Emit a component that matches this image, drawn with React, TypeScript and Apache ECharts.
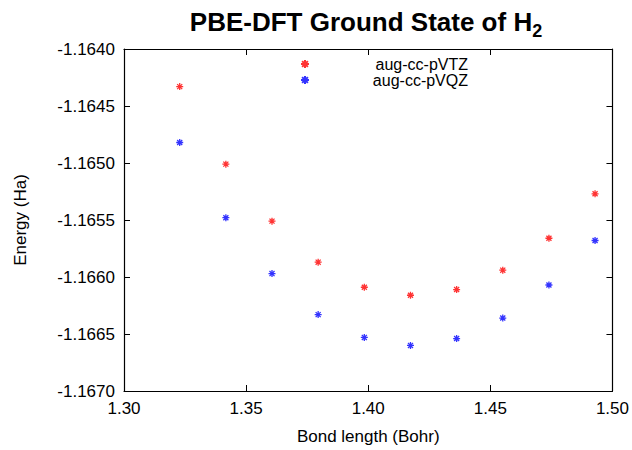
import React, { useEffect, useRef } from "react";
import * as echarts from "echarts";

const bondLength = [1.32281, 1.34171, 1.3606, 1.3795, 1.3984, 1.4173, 1.43619, 1.45509, 1.47399, 1.49288];
const energyVTZ = [-1.16433, -1.16501, -1.16551, -1.16587, -1.16609, -1.16616, -1.16611, -1.16594, -1.16566, -1.16527];
const energyVQZ = [-1.16482, -1.16548, -1.16597, -1.16633, -1.16653, -1.1666, -1.16654, -1.16636, -1.16607, -1.16568];
const seriesNames = ["aug-cc-pVTZ", "aug-cc-pVQZ"];
const titleMain = "PBE-DFT Ground State of H";
const titleSub = "2";
const xName = "Bond length (Bohr)";
const yName = "Energy (Ha)";

const FONT = "'Liberation Sans', Arial, Helvetica, sans-serif";
const STAR = "path://M0,-5L0,5M-5,0L5,0M-3.6,-3.6L3.6,3.6M-3.6,3.6L3.6,-3.6";

export default function App() {
  const ref = useRef<HTMLDivElement>(null);
  useEffect(() => {
    if (!ref.current) return;
    const chart = echarts.init(ref.current, null, { renderer: "svg" });
    const tickStyle = { inside: true, length: 6, lineStyle: { color: "#000", width: 1 } };
    const axisLine = { show: true, lineStyle: { color: "#000", width: 1.2 } };
    const mk = (name: string, ys: number[], color: string) => ({
      name,
      type: "scatter",
      xAxisIndex: 0,
      yAxisIndex: 0,
      data: bondLength.map((x, i) => [x, ys[i]]),
      symbol: STAR,
      symbolSize: 7,
      itemStyle: { color, borderColor: color, borderWidth: 1.3 },
    });
    chart.setOption({
      animation: false,
      backgroundColor: "#fff",
      textStyle: { fontFamily: FONT },
      graphic: [
        {
          type: "text",
          x: 366,
          y: 22,
          style: {
            text: `{m|${titleMain}}{s|${titleSub}}`,
            align: "center",
            verticalAlign: "middle",
            rich: {
              m: { fontSize: 26, fontWeight: "bold", fontFamily: FONT, fill: "#000", color: "#000" },
              s: { fontSize: 18, fontWeight: "bold", fontFamily: FONT, fill: "#000", color: "#000", padding: [17, 0, 0, 0] },
            },
          },
        },
      ],
      legend: {
        orient: "vertical",
        left: 295,
        top: 51,
        itemWidth: 8,
        itemHeight: 8,
        itemGap: 0,
        data: seriesNames,
        formatter: (name: string) => `{t|${name}}`,
        textStyle: {
          rich: { t: { width: 154, align: "right", fontSize: 16, lineHeight: 18, fontFamily: FONT, color: "#000" } },
        },
      },
      grid: { left: 124, right: 19, top: 49, bottom: 59 },
      xAxis: [
        {
          type: "value",
          min: 1.3,
          max: 1.5,
          interval: 0.05,
          name: xName,
          nameLocation: "middle",
          nameGap: 37,
          nameTextStyle: { fontSize: 17, color: "#000", fontFamily: FONT },
          axisLine,
          axisTick: tickStyle,
          splitLine: { show: false },
          axisLabel: { fontSize: 17, color: "#000", margin: 9, formatter: (v: number) => v.toFixed(2), fontFamily: FONT },
        },
        {
          type: "value",
          position: "top",
          min: 1.3,
          max: 1.5,
          interval: 0.05,
          axisLine,
          axisTick: tickStyle,
          splitLine: { show: false },
          axisLabel: { show: false },
        },
      ],
      yAxis: [
        {
          type: "value",
          min: -1.167,
          max: -1.164,
          interval: 0.0005,
          name: yName,
          nameLocation: "middle",
          nameGap: 95,
          nameTextStyle: { fontSize: 17, color: "#000", fontFamily: FONT },
          axisLine,
          axisTick: tickStyle,
          splitLine: { show: false },
          axisLabel: { fontSize: 17, color: "#000", margin: 9, formatter: (v: number) => v.toFixed(4), fontFamily: FONT },
        },
        {
          type: "value",
          position: "right",
          min: -1.167,
          max: -1.164,
          interval: 0.0005,
          axisLine,
          axisTick: tickStyle,
          splitLine: { show: false },
          axisLabel: { show: false },
        },
      ],
      series: [mk(seriesNames[0], energyVTZ, "#ff0000"), mk(seriesNames[1], energyVQZ, "#0000ff")],
    });
    return () => chart.dispose();
  }, []);
  return <div ref={ref} style={{ position: "fixed", left: 0, top: 0, width: 632, height: 450 }} />;
}
